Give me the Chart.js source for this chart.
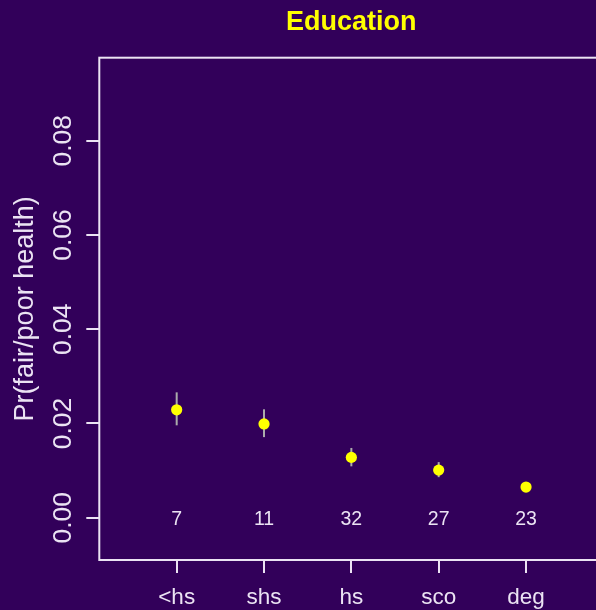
<!DOCTYPE html>
<html>
<head>
<meta charset="utf-8">
<script src="https://cdn.jsdelivr.net/npm/chart.js@4/dist/chart.umd.min.js"></script>
<style>
  html, body { margin: 0; padding: 0; background: #32005a; overflow: hidden; }
  #wrap { width: 640px; height: 610px; }
</style>
</head>
<body>
<div id="wrap"><canvas id="c" width="640" height="610"></canvas></div>
<script>
// Education groups and estimated probability of fair/poor health
const categories = ['<hs', 'shs', 'hs', 'sco', 'deg'];
const estimates  = [0.0229, 0.0199, 0.0128, 0.0101, 0.0065];
const lower      = [0.0196, 0.0171, 0.0109, 0.0086, 0.0057];
const upper      = [0.0266, 0.0230, 0.0148, 0.0118, 0.0074];
const counts     = [7, 11, 32, 27, 23];
const yTicks     = [0, 0.02, 0.04, 0.06, 0.08];

const BG = '#32005a';
const FG = '#ebe3f3';
const FONT = "'Liberation Sans', Arial, Helvetica, sans-serif";

const points = estimates.map((v, i) => ({ x: i + 1, y: v }));

// Frame, error bars, rotated y labels and group counts
const decor = {
  id: 'decor',
  beforeDatasetsDraw(chart) {
    const { ctx, scales: { x, y } } = chart;
    ctx.save();
    ctx.strokeStyle = '#ababab';
    ctx.lineWidth = 2;
    estimates.forEach((_, i) => {
      const px = x.getPixelForValue(i + 1);
      ctx.beginPath();
      ctx.moveTo(px, y.getPixelForValue(lower[i]));
      ctx.lineTo(px, y.getPixelForValue(upper[i]));
      ctx.stroke();
    });
    ctx.restore();
  },
  afterDraw(chart) {
    const { ctx, chartArea: a, scales: { x, y } } = chart;
    ctx.save();
    ctx.strokeStyle = FG;
    ctx.lineWidth = 2;
    ctx.strokeRect(a.left, a.top, a.right - a.left, a.bottom - a.top);

    ctx.fillStyle = FG;
    ctx.font = '26.5px ' + FONT;
    ctx.textAlign = 'center';
    ctx.textBaseline = 'alphabetic';
    y.ticks.forEach(t => {
      ctx.save();
      ctx.translate(a.left - 28.6, y.getPixelForValue(t.value));
      ctx.rotate(-Math.PI / 2);
      ctx.fillText(t.value.toFixed(2), 0, 0);
      ctx.restore();
    });

    ctx.font = '19.5px ' + FONT;
    const y0 = y.getPixelForValue(0);
    counts.forEach((n, i) => {
      ctx.fillText(String(n), x.getPixelForValue(i + 1), y0 + 7.5);
    });
    ctx.restore();
  }
};

new Chart(document.getElementById('c'), {
  type: 'scatter',
  data: {
    datasets: [{
      data: points,
      backgroundColor: '#ffff00',
      borderWidth: 0,
      pointRadius: 5.6,
      pointHoverRadius: 5.6
    }]
  },
  options: {
    responsive: false,
    animation: false,
    events: [],
    layout: { padding: { left: 0, right: 36.6, top: 0, bottom: 0 } },
    plugins: {
      legend: { display: false },
      tooltip: { enabled: false },
      title: {
        display: true,
        fullSize: false,
        text: 'Education',
        color: '#ffff00',
        font: { family: FONT, size: 27, weight: 'bold' },
        padding: { top: 6.4, bottom: 18.9 }
      }
    },
    scales: {
      x: {
        type: 'linear',
        min: 0.114,
        max: 5.886,
        afterBuildTicks(s) { s.ticks = categories.map((_, i) => ({ value: i + 1 })); },
        afterFit(s) { s.height = 50; },
        border: { display: false },
        grid: { drawOnChartArea: false, drawTicks: true, tickLength: 13, color: FG, lineWidth: 2 },
        ticks: {
          color: FG,
          font: { family: FONT, size: 22.5 },
          padding: 11.5,
          maxRotation: 0,
          minRotation: 0,
          callback: (v) => categories[v - 1]
        }
      },
      y: {
        type: 'linear',
        min: -0.008976,
        max: 0.09761,
        afterBuildTicks(s) { s.ticks = yTicks.map(v => ({ value: v })); },
        afterFit(s) { s.width = 99.3; },
        border: { display: false },
        grid: { drawOnChartArea: false, drawTicks: true, tickLength: 13, color: FG, lineWidth: 2 },
        ticks: { display: false },
        title: {
          display: true,
          text: 'Pr(fair/poor health)',
          color: FG,
          font: { family: FONT, size: 27 },
          padding: { top: 9.4, bottom: 0 }
        }
      }
    }
  },
  plugins: [decor, {
    id: 'bg',
    beforeDraw(chart) {
      const { ctx, width, height } = chart;
      ctx.save();
      ctx.fillStyle = BG;
      ctx.fillRect(0, 0, width, height);
      ctx.restore();
    }
  }]
});
</script>
</body>
</html>
